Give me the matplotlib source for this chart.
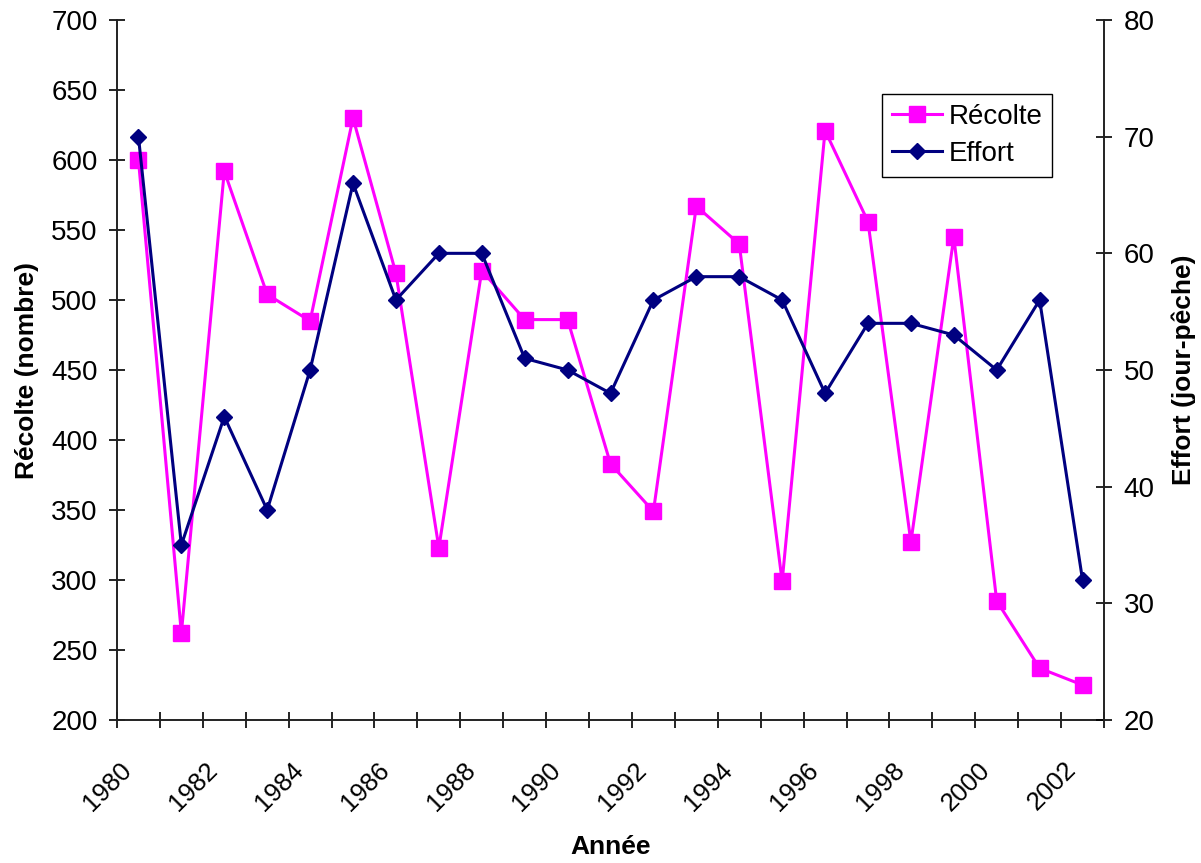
import matplotlib.pyplot as plt
import numpy as np
from matplotlib.transforms import ScaledTranslation

plt.rcParams['font.family'] = ['Liberation Sans', 'DejaVu Sans']

annees = list(range(1980, 2003))
recolte = [600, 262, 592, 504, 485, 630, 519, 323, 521, 486, 486, 383,
           349, 567, 540, 299, 621, 556, 327, 545, 285, 237, 225]
effort = [70, 35, 46, 38, 50, 66, 56, 60, 60, 51, 50, 48,
          56, 58, 58, 56, 48, 54, 54, 53, 50, 56, 32]

fig = plt.figure(figsize=(12.01, 8.63), dpi=100)
ax = fig.add_axes([117/1201, 1 - 720/863, 987/1201, 700/863])
ax2 = ax.twinx()

x = np.arange(len(annees))
l1, = ax.plot(x, recolte, color='#FF00FF', lw=2.2, marker='s', ms=11,
              label='Récolte')
l2, = ax2.plot(x, effort, color='#000080', lw=2.2, marker='D', ms=8.5,
               label='Effort')

ax.set_xlim(-0.5, len(annees) - 0.5)
ax.set_ylim(200, 700)
ax.set_yticks(np.arange(200, 701, 50))
ax2.set_ylim(20, 80)
ax2.set_yticks(np.arange(20, 81, 10))

fs = 20

# category axis: marks between categories, labels every 2 years
ax.set_xticks(x[::2])
ax.set_xticklabels([str(a) for a in annees[::2]], rotation=45,
                   ha='right', va='top', rotation_mode='anchor')
ax.set_xticks(np.arange(-0.5, len(annees)), minor=True)
ax.tick_params(axis='x', which='major', length=0, pad=27, labelsize=18.5)
ax.tick_params(axis='x', which='minor', direction='inout', length=11.5,
               width=1.2)
shift = ScaledTranslation(-19/100, 0, fig.dpi_scale_trans)
for lab in ax.get_xticklabels():
    lab.set_transform(lab.get_transform() + shift)

ax.tick_params(axis='y', direction='inout', length=12, width=1.2, pad=8,
               labelsize=fs)
ax2.tick_params(axis='y', direction='inout', length=12, width=1.2, pad=8,
                labelsize=fs)

for a in (ax, ax2):
    for s in a.spines.values():
        s.set_linewidth(1.4)
        s.set_color('#222222')
ax.spines['top'].set_visible(False)
ax2.spines['top'].set_visible(False)
ax.spines['right'].set_visible(False)
ax2.spines['left'].set_visible(False)
ax2.spines['bottom'].set_visible(False)

ax.set_xlabel('Année', fontsize=19, fontweight='bold', labelpad=14)
ax.set_ylabel('Récolte (nombre)', fontsize=19, fontweight='bold',
              labelpad=9)
ax2.set_ylabel('Effort (jour-pêche)', fontsize=19, fontweight='bold',
               rotation=90, labelpad=12)

leg = ax2.legend([l1, l2], ['Récolte', 'Effort'], loc='upper left',
                 bbox_to_anchor=(0.775, 0.894), borderaxespad=0,
                 fontsize=fs, fancybox=False, framealpha=1,
                 edgecolor='black', handlelength=1.8, handletextpad=0.25,
                 labelspacing=0.4, borderpad=0.35, numpoints=1)
leg.get_frame().set_linewidth(1.0)

fig.savefig('out.png', dpi=100)
